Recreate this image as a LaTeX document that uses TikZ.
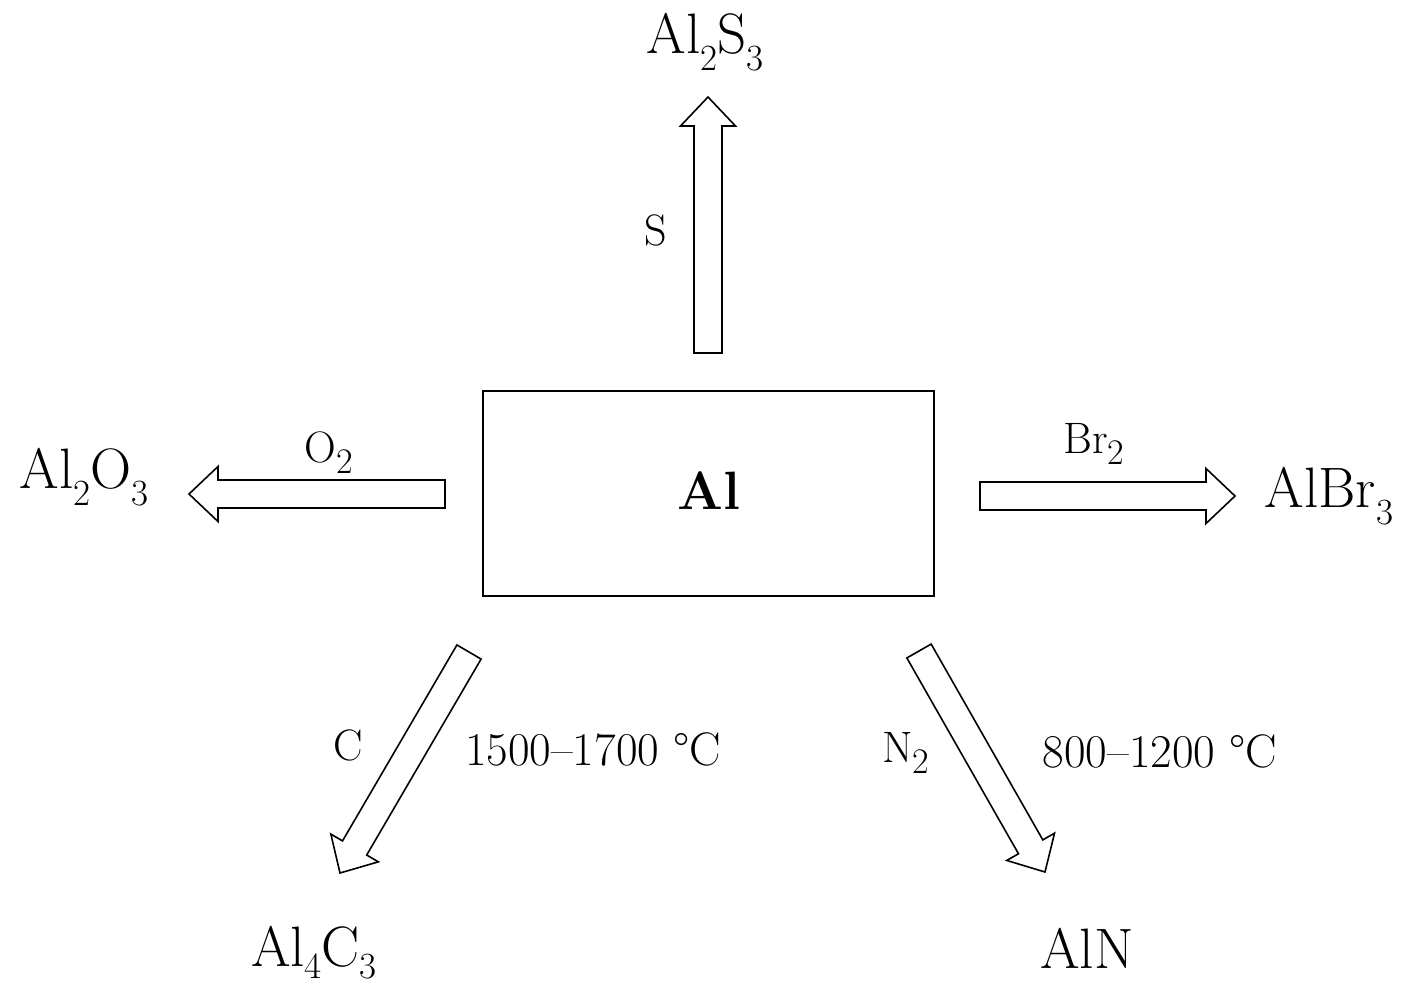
\documentclass[tikz,border=0pt]{standalone}
\usepackage{fontspec}
\usetikzlibrary{calc}
\newcommand{\fsub}[2][0.3em]{\raisebox{-#1}{\fontsize{18.5}{19}\selectfont #2}}
\newcommand{\rsub}[1]{\raisebox{-0.25em}{\fontsize{18}{19}\selectfont #1}}
\tikzset{
  formula/.style={font=\fontsize{28.5}{31}\selectfont, anchor=base, inner sep=0pt},
  reagent/.style={font=\fontsize{22}{26}\selectfont, anchor=base, inner sep=0pt},
  temp/.style={font=\fontsize{23.5}{27}\selectfont, anchor=base, inner sep=0pt},
  hollow/.style={draw=black, line width=0.8pt, fill=white, line join=miter},
  centrebox/.style={draw=black, line width=1.3pt, minimum width=225.5pt, minimum height=102.5pt,
    inner sep=0pt, font=\bfseries\fontsize{27}{30}\selectfont},
}
\newcommand{\hollowarrow}[2]{%
  \coordinate (hb) at ($(#2)!14.5pt!(#1)$);
  \draw[hollow] ($(#1)!7pt!90:(#2)$) -- ($(hb)!7pt!90:(#2)$) -- ($(hb)!13.75pt!90:(#2)$)
    -- (#2) -- ($(hb)!13.75pt!-90:(#2)$) -- ($(hb)!7pt!-90:(#2)$) -- ($(#1)!7pt!-90:(#2)$) -- cycle;}
\begin{document}
\begin{tikzpicture}[x=0.5pt,y=-0.5pt]
\useasboundingbox (0,0) rectangle (1404,987);
% central box
\node[centrebox] (al) at (708.5,493.5) {\raisebox{3pt}{Al}};
% products
\node[formula] (al2s3) at (705,53) {Al\fsub{2}S\fsub{3}};
\node[formula] (al2o3) at (84,488) {Al\fsub{2}O\fsub{3}};
\node[formula] (albr3) at (1329,507) {AlBr\fsub{3}};
\node[formula] (al4c3) at (314,966) {Al\fsub[0.22em]{4}C\fsub[0.22em]{3}};
\node[formula] (aln) at (1087,968) {AlN};
% reagents and conditions
\node[reagent] (s) at (656,245) {S};
\node[reagent] (o2) at (329,462) {O\rsub{2}};
\node[reagent] (br2) at (1094,453) {Br\rsub{2}};
\node[reagent] (c) at (348,760) {C};
\node[reagent] (n2) at (906,762) {N\rsub{2}};
\node[temp] (t1) at (593,765) {1500--1700 \textdegree C};
\node[temp] (t2) at (1160,767) {800--1200 \textdegree C};
% arrow end points
\coordinate (sT) at (708,353);  \coordinate (sH) at (708,97);
\coordinate (oT) at (445,494);  \coordinate (oH) at (189,494);
\coordinate (bT) at (980,496);  \coordinate (bH) at (1235,496);
\coordinate (cT) at (469,652);  \coordinate (cH) at (340,873);
\coordinate (nT) at (919,651);  \coordinate (nH) at (1045,872);
% hollow block arrows
\hollowarrow{sT}{sH}
\hollowarrow{oT}{oH}
\hollowarrow{bT}{bH}
\hollowarrow{cT}{cH}
\hollowarrow{nT}{nH}
\end{tikzpicture}
\end{document}
